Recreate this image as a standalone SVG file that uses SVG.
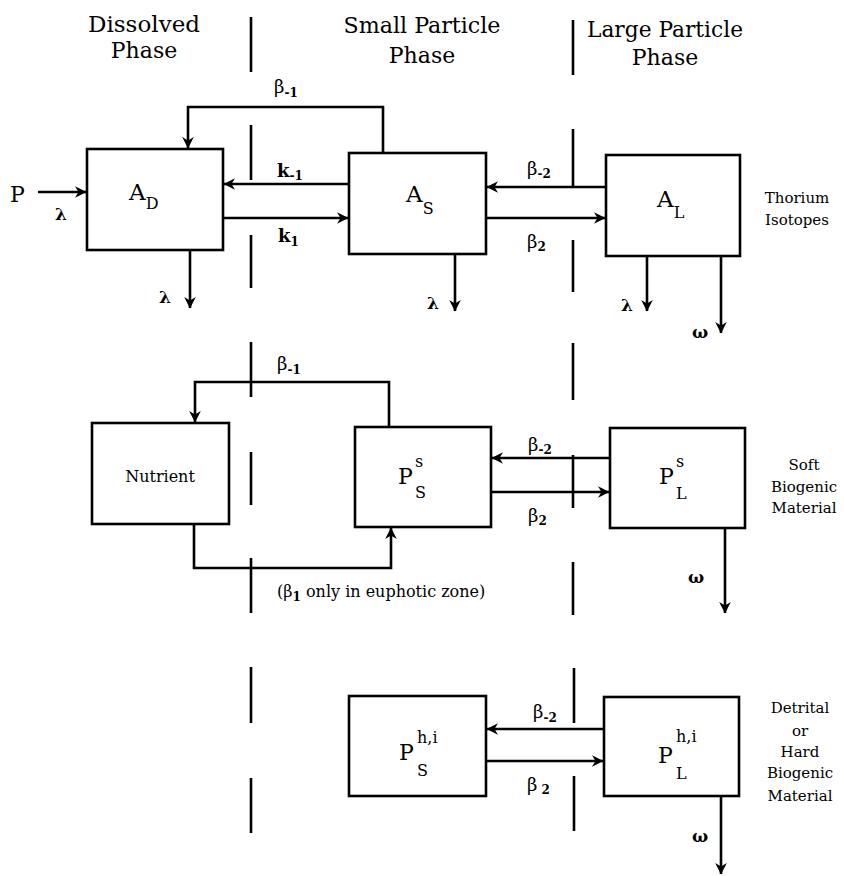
<svg xmlns="http://www.w3.org/2000/svg" width="844" height="876" viewBox="0 0 844 876">
<style>
.box{fill:#fff;stroke:#000;stroke-width:2.6}
.dv{stroke:#000;stroke-width:2.6;fill:none}
.ln{fill:none;stroke:#000;stroke-width:2.6}
.ar{marker-end:url(#ah)}
text{font-family:"DejaVu Serif","Liberation Serif",serif;fill:#000}
.hd{font-size:22px}
.side{font-size:16px}
.rs{font-size:15px}
.sym{font-size:23px}
.pp{font-size:22px}
.sub{font-size:16px}
.gr{font-size:18px}
.gs{font-size:12px;font-weight:bold}
.lam{font-size:17px;font-weight:bold}
.mid{text-anchor:middle}
</style>
<defs>
<marker id="ah" markerUnits="userSpaceOnUse" markerWidth="14" markerHeight="14" refX="12" refY="7" orient="auto">
<path d="M1,1.2 L12.5,7 L1,12.8 L4.5,7 z" fill="#000"/>
</marker>
</defs>

<g id="headers">
<text class="hd mid" x="144" y="32" textLength="112" lengthAdjust="spacingAndGlyphs">Dissolved</text>
<text class="hd mid" x="144" y="58">Phase</text>
<text class="hd mid" x="422" y="33" textLength="157" lengthAdjust="spacingAndGlyphs">Small Particle</text>
<text class="hd mid" x="422" y="63">Phase</text>
<text class="hd mid" x="665" y="37" textLength="156" lengthAdjust="spacingAndGlyphs">Large Particle</text>
<text class="hd mid" x="665" y="65">Phase</text>
</g>

<g id="dividers">
<path class="dv" d="M251,17V72M251,125V180M251,235V288M251,342V397M251,452V505M251,558V613M251,667V723M251,778V833"/>
<path class="dv" d="M573,20V75M573,129V187M573,240V292M573,343V400M573,455V508M573,562V615M574,668V723M574,776V831"/>
</g>

<g id="side-labels">
<text class="rs mid" x="797" y="203">Thorium</text>
<text class="rs mid" x="797" y="225">Isotopes</text>
<text class="rs mid" x="804" y="470">Soft</text>
<text class="rs mid" x="804" y="492">Biogenic</text>
<text class="rs mid" x="804" y="513">Material</text>
<text class="rs mid" x="800" y="713">Detrital</text>
<text class="rs mid" x="800" y="736">or</text>
<text class="rs mid" x="800" y="757">Hard</text>
<text class="rs mid" x="800" y="778">Biogenic</text>
<text class="rs mid" x="800" y="801">Material</text>
</g>

<g id="n-AD">
<rect class="box" x="87" y="149" width="136" height="101"/>
<text class="sym" x="129" y="200">A<tspan class="sub" dy="9">D</tspan></text>
</g>
<g id="n-AS">
<rect class="box" x="349" y="153" width="137" height="101"/>
<text class="sym" x="406" y="202">A<tspan class="sub" dy="12">S</tspan></text>
</g>
<g id="n-AL">
<rect class="box" x="606" y="155" width="134" height="101"/>
<text class="sym" x="657" y="207">A<tspan class="sub" dy="11">L</tspan></text>
</g>

<g id="n-nutrient">
<rect class="box" x="92" y="423" width="137" height="101"/>
<text class="side mid" x="160" y="482">Nutrient</text>
</g>
<g id="n-PSs">
<rect class="box" x="355" y="427" width="136" height="100"/>
<text class="pp" x="398" y="484">P</text>
<text class="sub" x="415" y="467">s</text>
<text class="sub" x="415" y="498">S</text>
</g>
<g id="n-PLs">
<rect class="box" x="610" y="428" width="135" height="100"/>
<text class="pp" x="659" y="484">P</text>
<text class="sub" x="676" y="467">s</text>
<text class="sub" x="676" y="499">L</text>
</g>

<g id="n-PShi">
<rect class="box" x="349" y="696" width="137" height="100"/>
<text class="pp" x="399" y="760">P</text>
<text class="sub" x="417" y="743">h,i</text>
<text class="sub" x="417" y="776">S</text>
</g>
<g id="n-PLhi">
<rect class="box" x="604" y="697" width="135" height="99"/>
<text class="pp" x="658" y="763">P</text>
<text class="sub" x="676" y="742">h,i</text>
<text class="sub" x="676" y="779">L</text>
</g>

<g id="connectors">
<path class="ln ar" d="M38,192H86"/>
<path class="ln ar" d="M383,153V107H188V148"/>
<path class="ln ar" d="M349,184H224"/>
<path class="ln ar" d="M223,218H348"/>
<path class="ln ar" d="M606,187H487"/>
<path class="ln ar" d="M486,218H605"/>
<path class="ln ar" d="M190,250V308"/>
<path class="ln ar" d="M455,254V311"/>
<path class="ln ar" d="M647,256V311"/>
<path class="ln ar" d="M721,256V333"/>
<path class="ln ar" d="M389,427V382H195V422"/>
<path class="ln ar" d="M194,524V568H391V528"/>
<path class="ln ar" d="M610,458H492"/>
<path class="ln ar" d="M491,492H609"/>
<path class="ln ar" d="M725,528V613"/>
<path class="ln ar" d="M604,729H487"/>
<path class="ln ar" d="M486,761H603"/>
<path class="ln ar" d="M721,796V874"/>
</g>

<g id="connector-labels">
<text class="pp" x="10" y="202">P</text>
<text class="lam" x="55" y="220">λ</text>
<text class="lam" x="159" y="303">λ</text>
<text class="lam" x="427" y="309">λ</text>
<text class="lam" x="621" y="311">λ</text>
<text class="lam" x="692" y="338">ω</text>
<text class="lam" x="688" y="583">ω</text>
<text class="lam" x="692" y="842">ω</text>
<text class="gr" x="274" y="93">β<tspan class="gs" dy="4">-1</tspan></text>
<text class="gr" x="277" y="177" style="font-weight:bold">k<tspan class="gs" dy="3">-1</tspan></text>
<text class="gr" x="278" y="242" style="font-weight:bold">k<tspan class="gs" dy="4">1</tspan></text>
<text class="gr" x="527" y="175">β<tspan class="gs" dy="3">-2</tspan></text>
<text class="gr" x="527" y="248">β<tspan class="gs" dy="3">2</tspan></text>
<text class="gr" x="277" y="370">β<tspan class="gs" dy="4">-1</tspan></text>
<text class="gr" x="528" y="451">β<tspan class="gs" dy="3">-2</tspan></text>
<text class="gr" x="528" y="522">β<tspan class="gs" dy="3">2</tspan></text>
<text class="gr" x="533" y="718">β<tspan class="gs" dy="4">-2</tspan></text>
<text class="gr" x="527" y="791">β<tspan class="gs" dx="4" dy="3">2</tspan></text>
<text class="side" x="277" y="597">(β<tspan class="gs" dy="4">1</tspan><tspan dy="-4"> only in euphotic zone)</tspan></text>
</g>
</svg>
